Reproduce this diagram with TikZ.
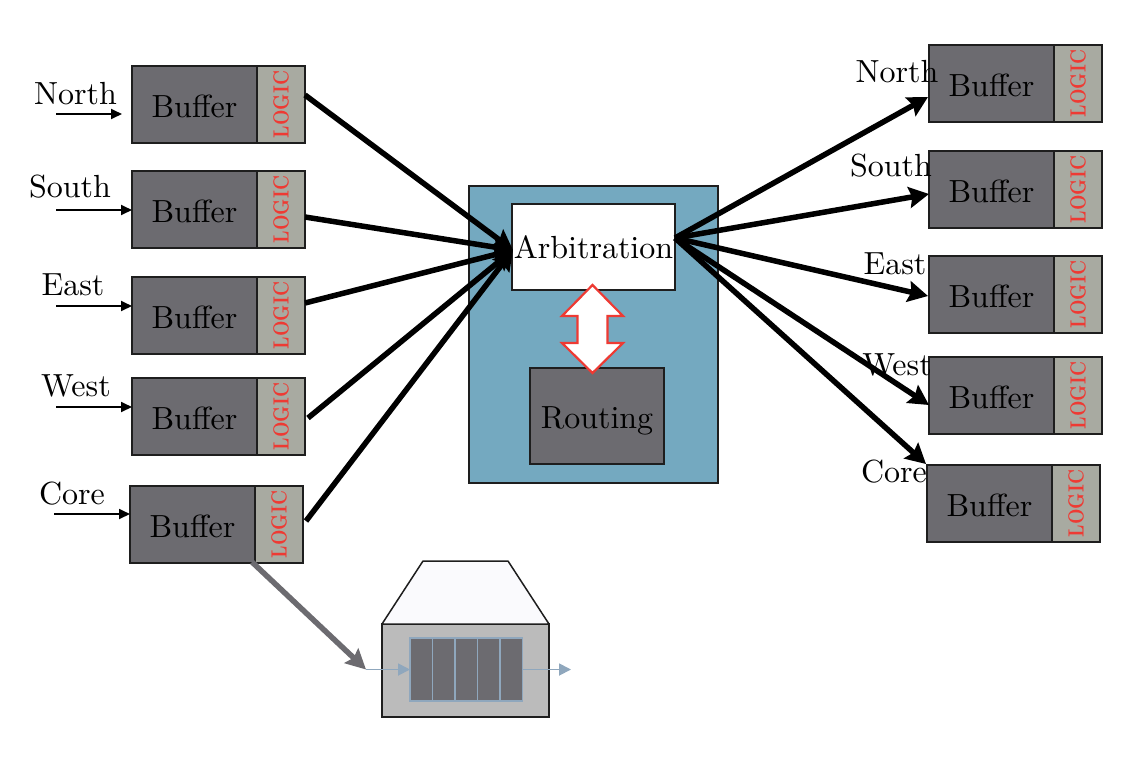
\documentclass[tikz,border=0pt]{standalone}
\usepackage{graphicx}
\usetikzlibrary{arrows.meta}
\definecolor{bufc}{HTML}{6C6B70}
\definecolor{logc}{HTML}{A8AAA1}
\definecolor{bluec}{HTML}{74A9C0}
\definecolor{redc}{HTML}{EE3A33}
\definecolor{greyc}{HTML}{BBBBBB}
\definecolor{palec}{HTML}{FAFAFD}
\definecolor{steelc}{HTML}{8FA7BD}
\definecolor{linec}{HTML}{1E1E1E}
\newcommand\bt[1]{\scalebox{3.2}{#1}}
\newcommand\boxtxt[1]{\raisebox{-1.5pt}[22pt][0pt]{\bt{#1}}}
\newcommand\logictxt{\rotatebox{90}{\scalebox{1.8}[2.2]{\bfseries\textcolor{redc}{LOGIC}}}}
\tikzset{
  box/.style={draw=linec,line width=1.5pt,inner sep=0pt,outer sep=0pt,anchor=north west},
  bufbox/.style={box,fill=bufc,minimum width=125pt,minimum height=77pt},
  logbox/.style={box,fill=logc,minimum width=48pt,minimum height=77pt},
  lbl/.style={inner sep=0pt},
  inarrow/.style={draw=black,line width=1.8pt,-{Triangle[length=11pt,width=10pt]}},
  thickarrow/.style={draw=black,line width=5.5pt,-{Stealth[length=20pt,width=21pt,inset=3pt]}},
  steelarrow/.style={draw=steelc,line width=1.8pt,-{Triangle[length=12pt,width=12pt]}},
}
\begin{document}
\begin{tikzpicture}[x=1pt,y=-1pt]
\useasboundingbox (0,0) rectangle (1132,780);
% buffers
\foreach \n/\xx/\yy in {a/132/66,b/132/171,c/132/277,d/132/378,e/130/486,
                        f/929/45,g/929/151,h/929/256,i/929/357,j/927/465}{
  \node[bufbox] (buf\n) at (\xx,\yy) {\boxtxt{Buffer}};
  \node[logbox] (log\n) at (\xx+125,\yy) {\logictxt};
}
% centre
\node[box,fill=bluec,minimum width=249pt,minimum height=297pt] (router) at (469,186) {};
\node[box,fill=white,minimum width=163pt,minimum height=86pt] (arb) at (512,204) {\bt{Arbitration}};
\node[box,fill=bufc,minimum width=134pt,minimum height=96pt] (rout) at (530,368) {\boxtxt{Routing}};
\fill[white,draw=redc,line width=2.2pt,line join=miter]
  (592.5,285) -- (623,316) -- (607.5,316) -- (607.5,343) -- (623,343) -- (592.5,373)
  -- (562,343) -- (577.5,343) -- (577.5,316) -- (562,316) -- cycle;
% labels
\node[lbl] (ln) at (75.5,94) {\bt{North}};
\node[lbl] (ls) at (70,187) {\bt{South}};
\node[lbl] (le) at (73,285) {\bt{East}};
\node[lbl] (lw) at (76,386) {\bt{West}};
\node[lbl] (lc) at (72,494) {\bt{Core}};
% input arrows
\coordinate (ia) at (56,114); \coordinate (iat) at (122,114);
\coordinate (ib) at (56,210);
\coordinate (ic) at (56,306);
\coordinate (id) at (56,407);
\coordinate (ie) at (54,514);
\draw[inarrow] (ia) -- (iat);
\draw[inarrow] (ib) -- (bufb.west |- ib);
\draw[inarrow] (ic) -- (bufc.west |- ic);
\draw[inarrow] (id) -- (bufd.west |- id);
\draw[inarrow] (ie) -- (bufe.west |- ie);
% thick in
\coordinate (arbin) at (513,250);
\coordinate (oa) at (305,95);
\coordinate (ob) at (305,217);
\coordinate (oc) at (305,303);
\coordinate (od) at (308,418);
\coordinate (oe) at (306,521);
\foreach \s in {oa,ob,oc,od,oe}{\draw[thickarrow] (\s) -- (arbin);}
% thick out
\coordinate (arbout) at (675,238);
\coordinate (tf) at (928,97);
\coordinate (tg) at (929,194);
\coordinate (th) at (928,296);
\coordinate (ti) at (929,405);
\coordinate (tj) at (926,464);
\foreach \s in {tf,tg,th,ti,tj}{\draw[thickarrow] (arbout) -- (\s);}
\node[lbl] (rn) at (897,72) {\bt{North}};
\node[lbl] (rs) at (891,166) {\bt{South}};
\node[lbl] (re) at (895,264) {\bt{East}};
\node[lbl] (rw) at (897,365) {\bt{West}};
\node[lbl] (rc) at (894,472) {\bt{Core}};
% memory block
\node[box,fill=greyc,minimum width=167pt,minimum height=93pt] (mem) at (382,624) {};
\fill[palec,draw=linec,line width=1.5pt,line join=round] (mem.north west) -- (423,561) -- (508,561) -- (mem.north east) -- cycle;
\foreach \n/\xx in {1/410,2/432.5,3/455,4/477.5,5/500}{
  \node[draw=steelc,fill=bufc,line width=1.5pt,inner sep=0pt,outer sep=0pt,anchor=north west,minimum width=22.4pt,minimum height=63pt] (q\n) at (\xx,638) {};
}
\coordinate (qin) at (366,669.5);
\coordinate (qout) at (571,669.5);
\coordinate (corefoot) at (252,562);
\draw[steelarrow] (qin) -- (q1.west);
\draw[steelarrow] (q5.east) -- (qout);
\draw[draw=bufc,line width=5.5pt,-{Stealth[length=20pt,width=20pt,inset=3pt]}] (corefoot) -- (qin);
\end{tikzpicture}
\end{document}
